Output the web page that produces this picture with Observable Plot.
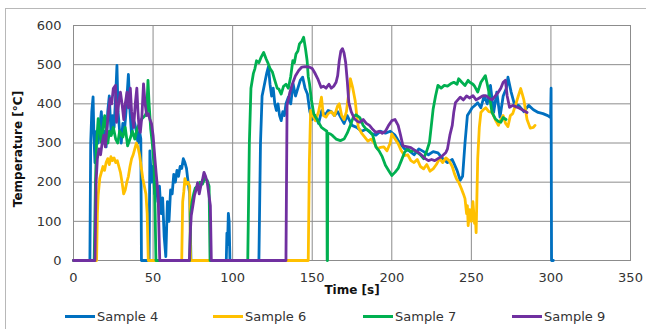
<!DOCTYPE html>
<html>
<head>
<meta charset="utf-8">
<script src="https://cdn.jsdelivr.net/npm/d3@7"></script>
<script src="https://cdn.jsdelivr.net/npm/@observablehq/plot@0.6"></script>
<style>
  html, body { margin: 0; padding: 0; background: #fff; }
  #wrap { position: relative; width: 646px; height: 329px; overflow: hidden; font-family: "DejaVu Sans", sans-serif; }
  #box { position: absolute; left: 5px; top: 8px; width: 700px; height: 400px; border-left: 1px solid #b8b8b8; border-top: 1px solid #b8b8b8; }
  #chart { position: absolute; left: 0; top: 0; }
  .leg { position: absolute; top: 308px; height: 16px; display: flex; align-items: center; font-size: 13px; color: #333; }
  .sw { width: 30px; height: 3px; margin-right: 2px; }
</style>
</head>
<body>
<div id="wrap">
  <div id="box"></div>
  <div id="chart"></div>
  <div id="legend"></div>
</div>
<script>
// ---- data ----
const seriesNames = ["Sample 4", "Sample 6", "Sample 7", "Sample 9"];
const seriesColors = ["#0070C0", "#FFC000", "#00B050", "#7030A0"];
const xTicks = [0, 50, 100, 150, 200, 250, 300, 350];
const yTicks = [0, 100, 200, 300, 400, 500, 600];

const s4Time = [0,10.3,10.8,11.5,12.3,12.8,13.5,14.5,15.5,16.5,17.5,18.5,19.5,20.5,21.5,22.5,23.5,24.5,25.5,26.5,27.3,28,29,30,31,32,33,34.5,35.5,36.5,37.5,38.5,39.5,40.5,41.5,42.3,42.7,47.5,48,49,50,51,52,53,54,55,56,57,58,59,60,61,62,63,64,65,66,67,68,69,70,71,72,73,73.8,96,96.4,96.8,97.3,97.8,98.3,116.5,117.5,118.5,119.5,120.5,121.5,122.5,123.5,124.5,125.5,126.5,127.5,128.5,129.5,130.5,131.5,132.5,133.5,135,136.5,138,139.5,141,142.5,144,145.5,147,148.5,150,152,154,156,158,160,162,164,166,168,170,172,175,178,181,184,187,190,193,196,199,202,205,208,211,214,217,220,223,226,229,232,235,238,241,243,244.5,246,247.5,249,250.5,252,254,256,258,260,262,264,266,268,270,272,273,275,277,280,283,286,289,292,295,298,299.8,300.1,300.4,301.5];
const s4Temp = [0,0,300,380,418,320,250,330,300,340,380,300,330,290,380,420,330,370,340,420,498,380,330,300,350,330,380,475,380,320,360,350,330,300,330,310,0,0,280,200,240,170,200,150,190,120,160,60,10,150,100,180,170,220,200,230,215,240,235,260,250,235,200,170,0,0,70,40,120,100,0,0,300,420,440,460,480,495,450,420,440,400,383,400,370,357,380,370,400,417,400,451,420,440,460,468,440,425,380,360,370,350,383,370,383,380,370,380,365,350,370,345,340,330,335,325,320,330,325,330,320,300,285,280,270,285,278,270,278,275,260,250,258,230,205,215,300,370,380,390,395,403,390,420,400,447,378,430,366,420,440,468,430,400,395,380,396,385,378,375,370,365,440,0,0];

const s6Time = [0,14.5,15,15.5,16.5,17.5,18.5,19.5,20.5,21.5,22.5,23.5,24.5,25.5,26.5,27.5,28.5,29.5,30.5,31.5,32.5,33.5,34.5,35.5,36.5,37.5,38.5,39.5,40.5,41.5,42.5,43.5,44.5,45.5,46.3,47,68,68.6,69.3,70,71,72,73,73.6,147.5,148.2,149,150.5,152,154,155.8,157,158.6,160,162,164,166,167,168.5,170,171.5,173,174,175.5,177,178,179,181,183,185,187,189,191,193,195,197,199,200,202,204,206,208,210,212,214,216,218,220,222,224,226,228,230,232,234,236,238,239.5,240.6,242,243.7,245,246,247,247.5,248,249,250,251,252,252.5,253,254,255,256,257.5,259,261,263,265,267,268.5,270,271.5,273,274.5,276,278,279.5,281,282,283,284,285,287,289,290];
const s6Temp = [0,0,120,166,210,225,240,230,250,260,245,265,255,262,250,255,240,225,200,170,180,200,215,240,260,270,285,300,290,270,240,210,190,170,120,0,0,150,175,209,195,200,190,0,0,250,383,370,357,380,417,370,366,375,380,370,395,400,370,360,380,430,464,440,408,370,340,325,315,305,310,300,285,289,290,280,300,323,311,298,280,268,270,255,250,258,240,234,245,228,234,245,260,250,262,255,240,220,209,200,184,170,158,120,140,89,130,100,150,95,110,71,260,340,378,385,390,380,378,360,345,360,370,350,342,370,375,400,420,439,425,410,385,360,338,340,345];

const s7Time = [0,13,13.8,14.5,15.5,16.5,17.5,18.5,19.6,20.5,21.6,22.5,23.7,25,26.5,27.8,29,31,32.5,34,35.5,37,38.5,40,41.5,43,45,46,46.8,47.5,48.5,49.5,50.6,51.3,51.8,73,73.6,74.5,75.5,76.5,78,79.5,81,82.5,84,85.2,85.8,109.5,110.5,111.5,113,114,115,116.5,118,119.5,121,122,123.5,125,126.5,128,129,130.5,132,133.5,135,136.5,137.8,138.8,139.8,141,142,143.5,144.6,145.8,146.8,147.5,148.3,149.5,151,153,155.8,157.5,159.2,159.4,159.6,159.8,161.5,163,165,167.7,170,172,174,175.8,177.5,179.9,182,184,186,188,190,192,194,196,198,200,202,204,206,208,210,212,214,216,218,220,222,223.7,225,226,227.5,229,231,233,235,237,239,241,242,244,246,248,249,251,252,254,256,258.8,260,261,263,265,267,268.5,270,271.8];
const s7Temp = [0,0,200,300,362,330,302,340,370,330,300,330,319,340,310,300,330,315,340,293,310,330,310,336,350,362,370,380,460,400,336,300,242,120,0,0,120,150,170,185,190,200,195,210,205,190,0,0,300,440,477,490,510,505,520,531,515,506,490,481,460,440,438,425,445,450,440,470,510,505,527,535,553,560,570,540,510,470,451,410,374,360,340,335,330,0,0,325,323,318,310,306,310,325,345,366,372,365,345,335,330,320,290,280,265,243,230,217,225,235,255,276,285,278,282,276,270,260,280,302,350,387,420,447,440,447,445,451,455,450,464,455,447,460,455,450,445,430,455,472,450,430,378,362,355,353,365,360];

const s9Time = [0,13.5,14.2,15,16,17,18,19,20,21,22,23,24,25,26.4,27,28,29.5,30.5,31.6,32.5,33.6,34.5,35.7,36.5,37.8,38.8,39.8,40.5,41.2,42,43,44,45,46,47,48,49,50,51,52,53.2,53.8,54.2,72.8,73.5,74,75,76,77,78,79,80,81,82,83,84,85,86,86.6,133.5,134.2,136,137.5,139.5,141.5,143.5,145.5,148,150,151.5,153.5,155.6,157,158.7,160.5,162,163.5,165,166,167,168,169,170,171,172,173,174.5,176.5,178.5,180,182,184,186,188,190,192,194,196,198,200,202,204,205.5,207,210,212,215,217,219,221,223,225,227,229,231,232,234,235,236.5,238,239,240,241.5,243,245,247,249,251,253,255,257,259,261,263,265,267,268.5,270,271.4,272.5,274,276,279,282,285];
const s9Temp = [0,0,200,260,285,270,300,320,290,336,380,413,400,439,447,353,390,430,400,360,400,430,390,440,380,340,400,440,380,340,327,370,451,400,370,375,360,350,320,268,220,166,60,0,0,80,115,140,166,180,199,170,190,205,225,215,200,170,140,0,0,396,430,450,472,485,494,495,494,490,480,464,442,445,440,450,440,445,455,472,510,535,541,530,506,460,403,380,362,355,353,360,350,345,335,327,330,325,330,345,357,360,345,320,293,290,288,280,275,268,260,255,258,255,260,265,268,276,285,320,345,380,403,410,417,410,420,415,421,410,415,420,421,415,410,420,430,440,455,460,420,391,396,391,385,378];

// ---- table for the library ----
const times = [s4Time, s6Time, s7Time, s9Time];
const temps = [s4Temp, s6Temp, s7Temp, s9Temp];
const rows = seriesNames.flatMap((name, i) =>
  times[i].map((t, j) => ({series: name, time: t, temp: temps[i][j]})));

const grid = "#8c8c8c";
const chart = Plot.plot({
  width: 646,
  height: 300,
  marginLeft: 73,
  marginRight: 16,
  marginTop: 25,
  marginBottom: 40,
  style: {fontFamily: "DejaVu Sans, sans-serif", fontSize: "13px", color: "#333", background: "transparent"},
  x: {domain: [0, 350]},
  y: {domain: [0, 600]},
  color: {domain: seriesNames, range: seriesColors},
  marks: [
    Plot.gridX(xTicks, {stroke: grid, strokeOpacity: 1, strokeWidth: 1}),
    Plot.gridY(yTicks, {stroke: grid, strokeOpacity: 1, strokeWidth: 1}),
    Plot.frame({stroke: grid, strokeWidth: 1}),
    Plot.lineY(rows, {x: "time", y: "temp", z: "series", stroke: "series", strokeWidth: 2.8, strokeLinejoin: "round"}),
    Plot.axisX(xTicks, {tickSize: 0, tickPadding: 12, label: null, fill: "#333"}),
    Plot.axisY(yTicks, {tickSize: 0, tickPadding: 12, label: null, fill: "#333"}),
    Plot.text(["Time [s]"], {text: d => d, frameAnchor: "bottom", dy: 33, fontWeight: "bold", fontSize: 12, fill: "#111"}),
    Plot.text(["Temperature [°C]"], {text: d => d, frameAnchor: "left", textAnchor: "middle", dx: -55, dy: 6, rotate: -90, fontWeight: "bold", fontSize: 12, fill: "#111"})
  ]
});
document.getElementById("chart").append(chart);

// ---- legend ----
const legendLeft = [65, 213, 363, 512];
const legend = document.getElementById("legend");
seriesNames.forEach((name, i) => {
  const item = document.createElement("div");
  item.className = "leg";
  item.style.left = legendLeft[i] + "px";
  const sw = document.createElement("span");
  sw.className = "sw";
  sw.style.background = seriesColors[i];
  const label = document.createElement("span");
  label.textContent = name;
  item.append(sw, label);
  legend.append(item);
});
</script>
</body>
</html>
